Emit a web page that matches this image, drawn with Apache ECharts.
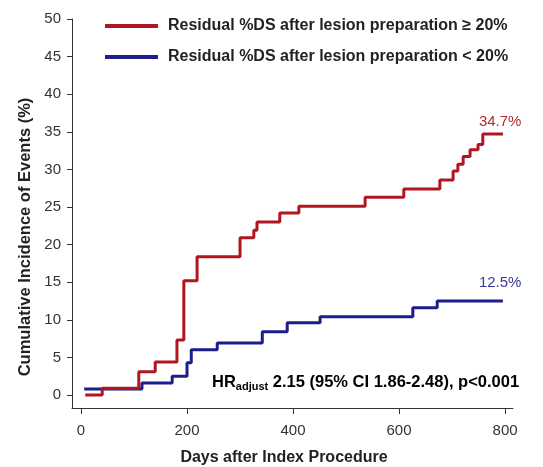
<!DOCTYPE html>
<html>
<head>
<meta charset="utf-8">
<script src="https://cdn.jsdelivr.net/npm/echarts@6/dist/echarts.min.js"></script>
<style>
  html, body { margin: 0; padding: 0; background: #fff; }
  #chart { width: 543px; height: 467px; }
</style>
</head>
<body>
<div id="chart"></div>
<script>
// Kaplan-Meier style cumulative incidence, step points as (day, % after event)
const redDays   = [8, 40, 109, 140, 181, 194, 219, 300, 326, 332, 375, 411, 536, 609, 677, 702, 711, 721, 734, 749, 758, 796];
const redValues = [0, 0.9, 3.1, 4.4, 7.3, 15.2, 18.4, 20.9, 21.9, 23.0, 24.2, 25.1, 26.3, 27.4, 28.6, 29.8, 30.7, 31.7, 32.6, 33.3, 34.7, 34.7];

const blueDays   = [6, 115, 172, 200, 208, 257, 342, 389, 451, 626, 672, 796];
const blueValues = [0.8, 1.6, 2.5, 4.3, 6.0, 6.9, 8.4, 9.6, 10.4, 11.6, 12.5, 12.5];

const seriesNames = [
  'Residual %DS after lesion preparation \u2265 20%',
  'Residual %DS after lesion preparation < 20%'
];
// tick positions; the axis frame runs a little past them on both axes
const xTickValues = [0, 200, 400, 600, 800];
const yTickValues = [0, 5, 10, 15, 20, 25, 30, 35, 40, 45, 50];
const xRange = [-17, 815];
const yRange = [-1.73, 50];

const xTitle = 'Days after Index Procedure';
const yTitle = 'Cumulative Incidence of Events (%)';

const RED = '#b0161f';
const BLUE = '#1d1d8c';
const FONT = '"Liberation Sans", Arial, sans-serif';

function endLabel(color, offset) {
  return {
    show: true,
    distance: 0,
    offset: offset,
    formatter: p => p.value[1].toFixed(1) + '%',
    color: color,
    fontFamily: FONT,
    fontSize: 15
  };
}

const chart = echarts.init(document.getElementById('chart'), null, { renderer: 'canvas' });

const axisCommon = {
  type: 'value',
  axisLine: { show: true, onZero: false, lineStyle: { color: '#333', width: 1 } },
  splitLine: { show: false }
};

chart.setOption({
  animation: false,
  backgroundColor: '#fff',
  grid: { left: 72, top: 19, width: 441, height: 389, containLabel: false, outerBoundsMode: 'none' },
  legend: {
    orient: 'vertical',
    left: 100,
    top: 13,
    itemWidth: 53,
    itemHeight: 4,
    itemGap: 15,
    icon: 'rect',
    textStyle: { fontFamily: FONT, fontWeight: 'bold', fontSize: 16, color: '#222', padding: [0, 0, 0, 5] },
    data: seriesNames
  },
  xAxis: Object.assign({}, axisCommon, {
    min: xRange[0], max: xRange[1],
    axisTick: { show: true, length: 6, customValues: xTickValues, lineStyle: { color: '#333' } },
    axisLabel: { fontFamily: FONT, fontSize: 15, color: '#333', margin: 15, customValues: xTickValues }
  }),
  yAxis: Object.assign({}, axisCommon, {
    min: yRange[0], max: yRange[1],
    axisTick: { show: true, length: 5, customValues: yTickValues, lineStyle: { color: '#333' } },
    axisLabel: { fontFamily: FONT, fontSize: 15, color: '#333', margin: 11, customValues: yTickValues }
  }),
  series: [
    {
      name: seriesNames[0],
      type: 'line',
      step: 'end',
      showSymbol: false,
      symbol: 'none',
      color: RED,
      lineStyle: { color: RED, width: 3 },
      z: 3,
      endLabel: endLabel('#b02a2a', [-24, -12]),
      data: redDays.map((d, i) => [d, redValues[i]])
    },
    {
      name: seriesNames[1],
      type: 'line',
      step: 'end',
      showSymbol: false,
      symbol: 'none',
      color: BLUE,
      lineStyle: { color: BLUE, width: 3 },
      z: 2,
      endLabel: endLabel('#37379a', [-24, -18]),
      data: blueDays.map((d, i) => [d, blueValues[i]])
    }
  ],
  graphic: [
    {
      type: 'text',
      x: 25,
      y: 237,
      rotation: Math.PI / 2,
      style: {
        text: yTitle,
        align: 'center',
        verticalAlign: 'middle',
        fontFamily: FONT, fontWeight: 'bold', fontSize: 16.5, fill: '#222'
      }
    },
    {
      type: 'text',
      x: 284,
      y: 458,
      style: {
        text: xTitle,
        align: 'center',
        verticalAlign: 'middle',
        fontFamily: FONT, fontWeight: 'bold', fontSize: 16, fill: '#222'
      }
    },
    {
      type: 'text',
      left: 212,
      top: 374,
      style: {
        text: '{a|HR}{s|adjust}{a| 2.15 (95% CI 1.86-2.48), p<0.001}',
        rich: {
          a: { fontFamily: FONT, fontWeight: 'bold', fontSize: 16.5, color: '#111' },
          s: { fontFamily: FONT, fontWeight: 'bold', fontSize: 11, color: '#111', padding: [9, 0, 0, 0] }
        }
      }
    }
  ]
});
</script>
</body>
</html>
